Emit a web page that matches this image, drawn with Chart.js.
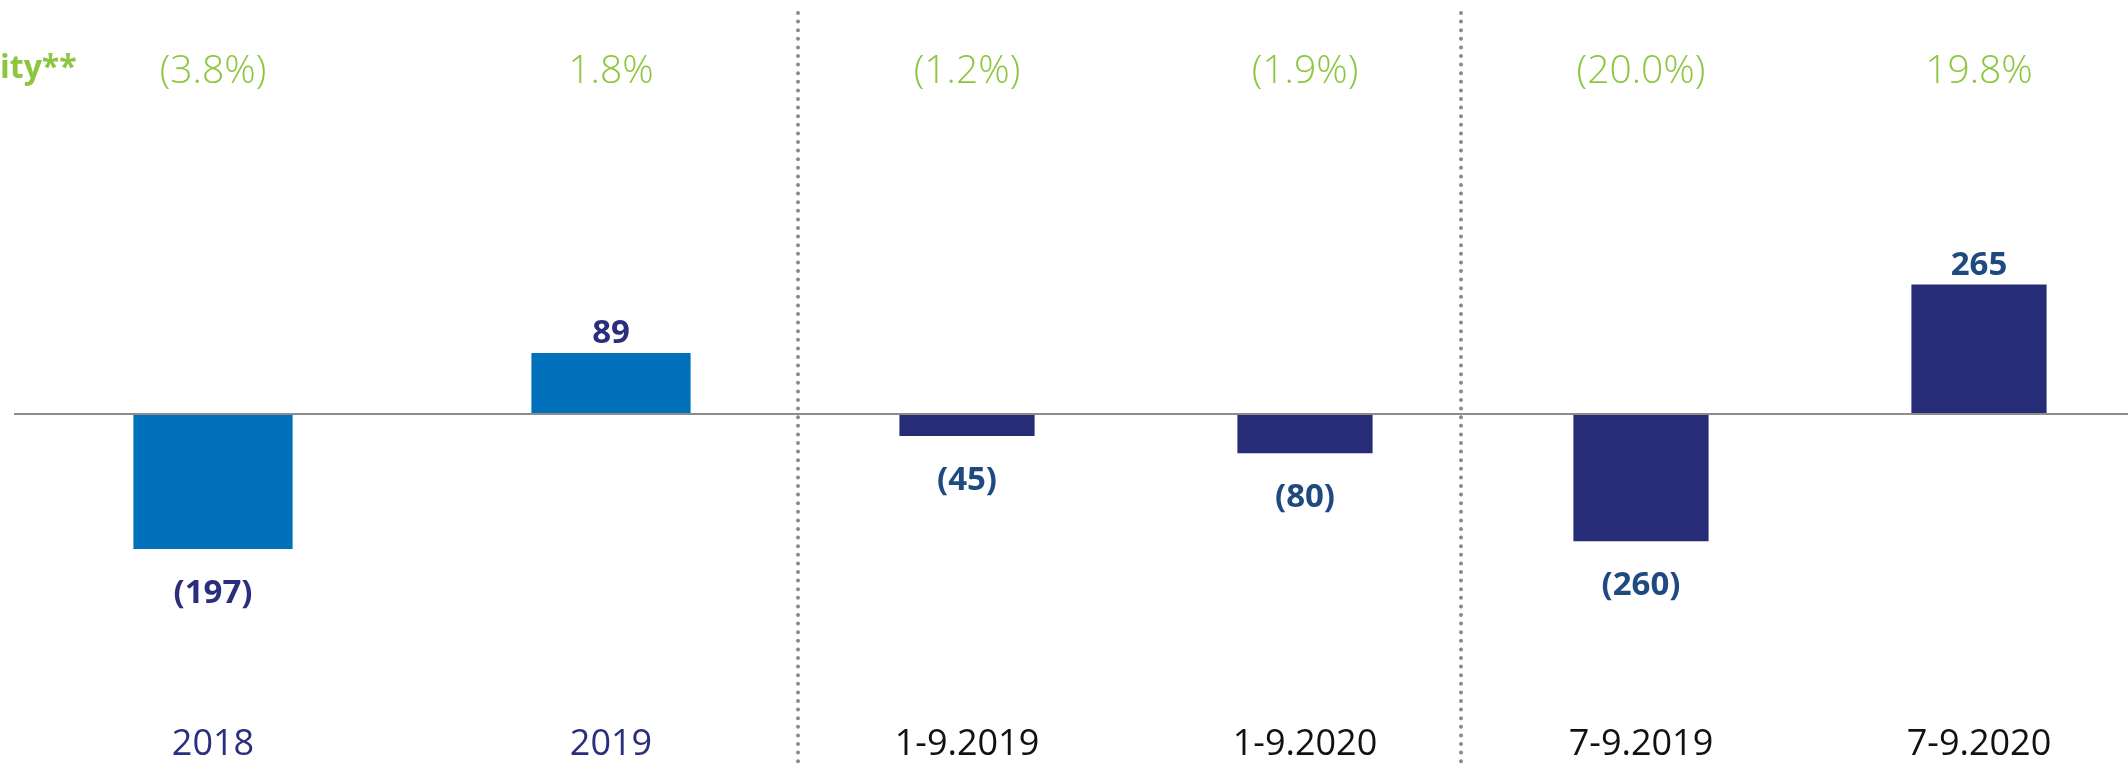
<!DOCTYPE html>
<html>
<head>
<meta charset="utf-8">
<script src="https://cdn.jsdelivr.net/npm/chart.js@4.4.1/dist/chart.umd.min.js"></script>
<style>
  html, body { margin: 0; padding: 0; background: #fff; overflow: hidden; }
  #wrap { position: relative; width: 2128px; height: 767px; overflow: hidden; }
  #wrap canvas { position: absolute; left: 0; top: 0; }
</style>
</head>
<body>
<div id="wrap">
  <canvas id="c1" width="2128" height="767"></canvas>
  <canvas id="c2" width="2128" height="767"></canvas>
  <canvas id="c3" width="2148" height="767"></canvas>
</div>
<script>
// values
const categories = ['2018', '2019', '1-9.2019', '1-9.2020', '7-9.2019', '7-9.2020'];
const results = [-197, 89, -45, -80, -260, 265];
const margins = [-3.8, 1.8, -1.2, -1.9, -20.0, 19.8];
const titleFragment = 'ity**';

const GREEN = '#8cc63f';
const GRID_GREY = '#8c8c8c';

// each group of two bars is its own little chart, laid over the others
// (canvas 3 runs a bit past the right edge, the wrapper clips it)
const panels = [
    { id: 'c1', from: 0, to: 2, bar: '#0070ba', label: '#2a2e7c', tick: '#2a2e7c', min: -515, max: 604, pad: { left: 14, right: 1318 } },
    { id: 'c2', from: 2, to: 4, bar: '#262c75', label: '#1f4a80', tick: '#111111', min: -722, max: 847, pad: { left: 798, right: 654 } },
    { id: 'c3', from: 4, to: 6, bar: '#262c75', label: '#1f4a80', tick: '#111111', min: -722, max: 847, pad: { left: 1472, right: 0 } }
];
const dividers = [798, 1461];

function fmt(v, digits, suffix) {
    const s = Math.abs(v).toFixed(digits) + suffix;
    return v < 0 ? '(' + s + ')' : s;
}

const decor = {
    id: 'decor',
    afterDatasetsDraw(chart, args, opts) {
        const { ctx, chartArea, scales: { x, y } } = chart;
        const y0 = y.getPixelForValue(0);
        ctx.save();

        // zero line
        ctx.strokeStyle = GRID_GREY;
        ctx.lineWidth = 2;
        ctx.beginPath();
        ctx.moveTo(chartArea.left, y0);
        ctx.lineTo(chartArea.right, y0);
        ctx.stroke();

        // dotted separators + clipped title, only once
        if (opts.first) {
            ctx.strokeStyle = '#8a8a8a';
            ctx.lineWidth = 4;
            ctx.lineCap = 'round';
            ctx.setLineDash([0, 8.6]);
            dividers.forEach(dx => {
                ctx.beginPath();
                ctx.moveTo(dx, 13);
                ctx.lineTo(dx, 767);
                ctx.stroke();
            });
            ctx.setLineDash([]);
            ctx.font = 'bold 32px "Open Sans"';
            ctx.fillStyle = GREEN;
            ctx.textAlign = 'left';
            ctx.fillText(titleFragment, 0, 78);
        }

        ctx.textAlign = 'center';
        ctx.textBaseline = 'alphabetic';
        const meta = chart.getDatasetMeta(0);
        meta.data.forEach((bar, i) => {
            const v = chart.data.datasets[0].data[i];
            const cx = x.getPixelForValue(i);

            ctx.font = 'bold 33px "Open Sans"';
            ctx.fillStyle = opts.labelColor;
            ctx.fillText(fmt(v, 0, ''), cx, v >= 0 ? bar.y - 10 : bar.y + 54);

            ctx.font = '300 39px "Open Sans"';
            ctx.fillStyle = GREEN;
            ctx.fillText(fmt(opts.margins[i], 1, '%'), cx, 83);

            ctx.font = '36px "Open Sans"';
            ctx.fillStyle = opts.tickColor;
            ctx.fillText(chart.data.labels[i], cx, 755);
        });
        ctx.restore();
    }
};

function build() {
    panels.forEach((p, n) => {
        new Chart(document.getElementById(p.id), {
            type: 'bar',
            data: {
                labels: categories.slice(p.from, p.to),
                datasets: [{
                    data: results.slice(p.from, p.to),
                    backgroundColor: p.bar,
                    borderWidth: 0,
                    categoryPercentage: 1,
                    barPercentage: 0.4
                }]
            },
            options: {
                responsive: false,
                animation: false,
                layout: { padding: { left: p.pad.left, right: p.pad.right, top: 0, bottom: 0 } },
                scales: {
                    x: { display: false },
                    y: { display: false, min: p.min, max: p.max }
                },
                plugins: {
                    legend: { display: false },
                    tooltip: { enabled: false },
                    decor: {
                        first: n === 0,
                        labelColor: p.label,
                        tickColor: p.tick,
                        margins: margins.slice(p.from, p.to)
                    }
                }
            },
            plugins: [decor]
        });
    });
}

Promise.all([
    document.fonts.load('300 39px "Open Sans"'),
    document.fonts.load('36px "Open Sans"'),
    document.fonts.load('bold 33px "Open Sans"')
]).then(build, build);
</script>
</body>
</html>
